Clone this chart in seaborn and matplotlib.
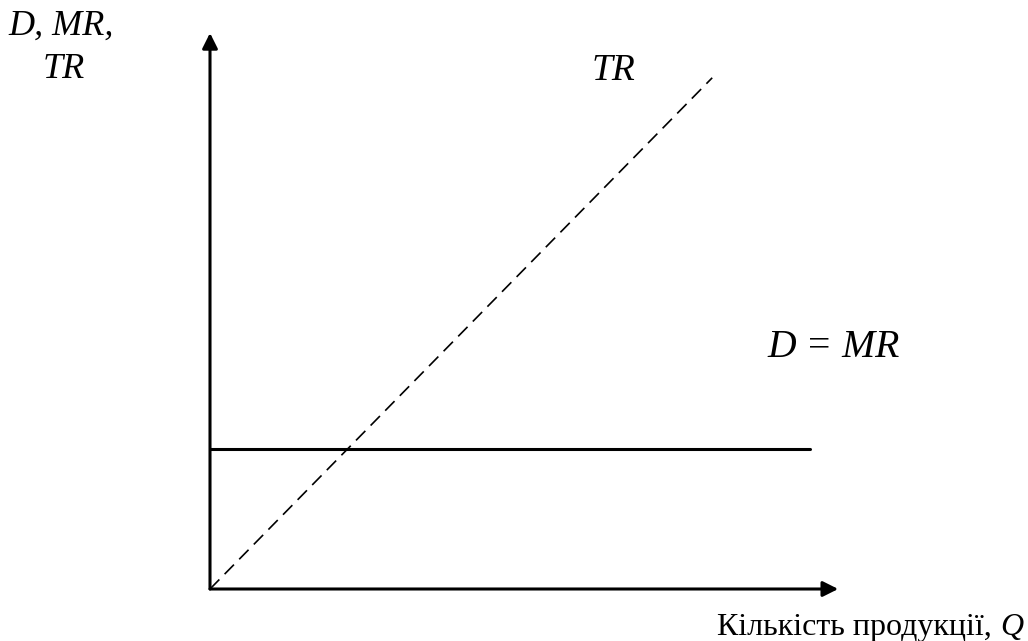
import matplotlib
matplotlib.use("Agg")
import matplotlib.pyplot as plt
import seaborn as sns

# schematic data (abstract units)
q_d = [0, 10]         # quantity range for D = MR
p_d = [3.5, 3.5]      # constant price (D = MR)
q_tr = [0, 8.37]      # quantity range for TR
tr = [0, 12.78]       # total revenue
x_axis_end = 10.47
y_axis_end = 13.9

sns.set_theme(style="white")
plt.rcParams['font.family'] = ['Liberation Serif', 'DejaVu Serif']
plt.rcParams['text.color'] = 'black'

W, H = 1028, 641
fig = plt.figure(figsize=(W / 100, H / 100), dpi=100)
fig.set_facecolor('white')
ax = fig.add_axes([0, 0, 1, 1])
ax.set_xlim(-210 / 60, (W - 210) / 60)
ax.set_ylim(-(H - 589) / 40, 589 / 40)
ax.axis('off')

# axes with arrows
arrow = dict(arrowstyle='-|>', color='black', lw=2.2, mutation_scale=23,
             shrinkA=0, shrinkB=0)
ax.annotate('', xy=(x_axis_end, 0), xytext=(0, 0), arrowprops=arrow)
ax.annotate('', xy=(0, y_axis_end), xytext=(0, 0), arrowprops=arrow)

sns.lineplot(x=q_d, y=p_d, ax=ax, color='black', lw=2.2)
sns.lineplot(x=q_tr, y=tr, ax=ax, color='black', lw=1.2)
ax.lines[-1].set_dashes([8, 4.5])

def ptext(x, y, s, size, **kw):
    return fig.text(x / W, 1 - y / H, s, va='baseline', fontsize=size,
                    color='black', **kw)

ptext(8, 35, 'D, MR,', 26, style='italic')
ptext(43, 78, 'TR', 26, style='italic')
ptext(592, 80, 'TR', 27, style='italic')
ptext(767, 357, 'D = MR', 28.5, style='italic')

# x-axis label with italic Q
q = ptext(1023, 635, 'Q', 23, style='italic', ha='right')
fig.canvas.draw()
bb = q.get_window_extent()
ptext(bb.x0, 635, 'Кількість продукції, ', 23, ha='right')

fig.savefig('out.png', dpi=100, facecolor='white')
